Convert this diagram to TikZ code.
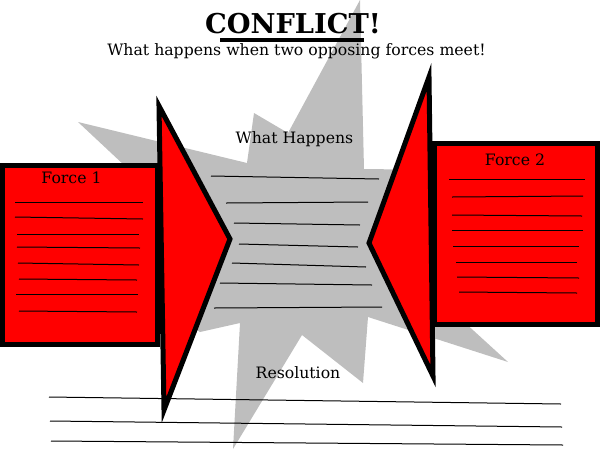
\documentclass[tikz,border=0pt]{standalone}
\usepackage{fontspec}
\setmainfont{DejaVu Serif}
\definecolor{burst}{RGB}{190,190,190}
\tikzset{
  force/.style={fill=red, draw=black, line width=5pt, line join=miter},
  rule/.style={draw=black, line width=1pt},
  label/.style={font=\fontsize{15.7}{18}\selectfont, anchor=base, inner sep=0pt},
}
\begin{document}
\begin{tikzpicture}[x=1pt, y=-1pt]

		\useasboundingbox (0,0) rectangle (600,451);

		% the clash
		\fill[burst] (360,0) -- (364,169) -- (445,170) -- (440,300) -- (508,362) -- (368,317) -- (363,383) -- (302,335) -- (233,449) -- (240,323) -- (200,332) -- (150,300) -- (140,180) -- (78,122) -- (247,163) -- (254,113) -- (288,133) -- cycle;

		\node[font=\bfseries\fontsize{27.3}{30}\selectfont, anchor=base, inner sep=0pt] (title) at (293,33) {CONFLICT!};
		\draw[line width=4pt] (220,39.5) -- (364,39.5);
		\node[label] (sub) at (296.5,55) {What happens when two opposing forces meet!};

		% force 1
		\draw[force] (2.5,165.5) rectangle (157.5,344.5);
		\node[label] (f1) at (71.5,183.5) {Force 1};
		\draw[rule] (15,202) -- (143,202);
		\draw[rule] (15,217) -- (143,219);
		\draw[rule] (17,234) -- (139,234);
		\draw[rule] (17,247) -- (140,248);
		\draw[rule] (18,263) -- (139,265);
		\draw[rule] (19,279) -- (137,280);
		\draw[rule] (16,294) -- (138,294);
		\draw[rule] (19,311) -- (137,312);

		% force 2
		\draw[force] (434.5,143.5) rectangle (597.5,324.5);
		\node[label] (f2) at (515,165) {Force 2};
		\draw[rule] (449,179) -- (585,179);
		\draw[rule] (452,197) -- (583,196);
		\draw[rule] (452,215) -- (582,216);
		\draw[rule] (452,230) -- (583,230);
		\draw[rule] (453,246) -- (579,246);
		\draw[rule] (456,262) -- (577,262);
		\draw[rule] (457,277) -- (579,278);
		\draw[rule] (459,292) -- (577,293);

		% arrows
		\draw[force] (159,106) -- (230,239) -- (164,410) -- cycle;
		\draw[force] (429,77) -- (369,243) -- (433,376) -- cycle;

		% what happens
		\node[label] (what) at (294.5,143.3) {What Happens};
		\draw[rule] (211,176) -- (379,179);
		\draw[rule] (226,203) -- (368,202);
		\draw[rule] (234,223) -- (360,225);
		\draw[rule] (239,244) -- (358,247);
		\draw[rule] (232,263) -- (366,267);
		\draw[rule] (220,283) -- (372,285);
		\draw[rule] (214,308) -- (382,307);

		% resolution
		\node[label] (res) at (298,378.3) {Resolution};
		\draw[rule] (49,397) -- (561,404);
		\draw[rule] (50,421) -- (562,427);
		\draw[rule] (51,441) -- (563,445);

	\end{tikzpicture}
\end{document}
